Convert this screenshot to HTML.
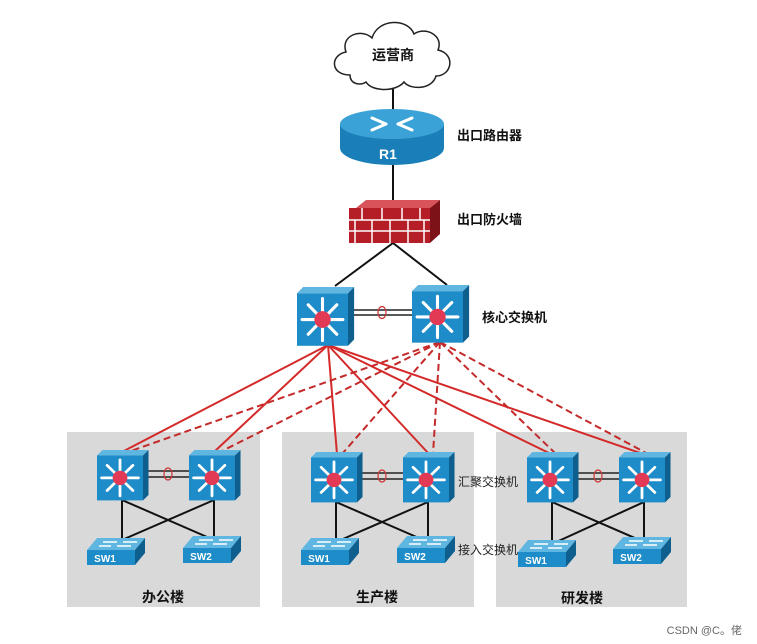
<!DOCTYPE html>
<html><head><meta charset="utf-8"><style>
html,body{margin:0;padding:0;background:#fff;}
svg{display:block;}
text{font-family:"Liberation Sans","Noto Sans CJK SC",sans-serif;}
</style></head><body>
<svg width="757" height="644" viewBox="0 0 757 644" xmlns="http://www.w3.org/2000/svg">
<defs>
<g id="sw">
<polygon points="0,6 6,0 56,0 50,6" fill="#5fb6e0"/>
<rect x="0" y="6" width="50" height="50" fill="#1e8cc8"/>
<polygon points="50,6 56,0 56,50 50,56" fill="#0f5f8e"/>
<g stroke="#fff" stroke-width="3" stroke-linecap="round">
<line x1="25" y1="31" x2="25" y2="11"/><line x1="25" y1="31" x2="25" y2="51"/>
<line x1="25" y1="31" x2="5" y2="31"/><line x1="25" y1="31" x2="45" y2="31"/>
<line x1="25" y1="31" x2="11" y2="17"/><line x1="25" y1="31" x2="39" y2="17"/>
<line x1="25" y1="31" x2="11" y2="45"/><line x1="25" y1="31" x2="39" y2="45"/>
</g>
<circle cx="25" cy="31" r="8" fill="#e23a55"/>
</g>
<g id="as">
<polygon points="10,0 58,0 48,12 0,12" fill="#5fb6e0"/>
<g stroke="#fff" stroke-width="1.5"><line x1="16" y1="4" x2="30" y2="4"/><line x1="30" y1="8" x2="44" y2="8"/><line x1="12" y1="8" x2="24" y2="8"/><line x1="36" y1="4" x2="50" y2="4"/></g>
<rect x="0" y="12" width="48" height="15" fill="#1e8cc8"/>
<polygon points="48,12 58,0 58,15 48,27" fill="#0f5f8e"/>
</g>
</defs>
<!-- building boxes -->
<rect x="67" y="432" width="193" height="175" fill="#d9d9d9"/>
<rect x="282" y="432" width="192" height="175" fill="#d9d9d9"/>
<rect x="496" y="432" width="191" height="175" fill="#d9d9d9"/>
<!-- top black lines -->
<g stroke="#111" stroke-width="2" fill="none">
<line x1="393" y1="85" x2="393" y2="115"/>
<line x1="393" y1="160" x2="393" y2="205"/>
<line x1="393" y1="243" x2="335" y2="286"/>
<line x1="393" y1="243" x2="447" y2="285"/>
</g>
<!-- core link -->
<g stroke="#222" stroke-width="1.5"><line x1="353" y1="310" x2="412" y2="310"/><line x1="353" y1="315" x2="412" y2="315"/></g>
<ellipse cx="382" cy="312.5" rx="4" ry="6" fill="none" stroke="#c33" stroke-width="1.2"/>
<!-- red links -->
<g stroke="#d42a2a" stroke-width="2" fill="none">
<line x1="328" y1="345" x2="122" y2="452"/><line x1="328" y1="345" x2="214" y2="452"/>
<line x1="328" y1="345" x2="337" y2="454"/><line x1="328" y1="345" x2="429" y2="454"/>
<line x1="328" y1="345" x2="551" y2="454"/><line x1="328" y1="345" x2="643" y2="454"/>
</g>
<g stroke="#c42a2a" stroke-width="2" fill="none" stroke-dasharray="7,4">
<line x1="440" y1="342" x2="128" y2="452"/><line x1="440" y1="342" x2="220" y2="452"/>
<line x1="440" y1="342" x2="342" y2="454"/><line x1="440" y1="342" x2="433" y2="454"/>
<line x1="440" y1="342" x2="556" y2="454"/><line x1="440" y1="342" x2="648" y2="454"/>
</g>
<!-- cloud -->
<path d="M350,75 C330,75 330,55 346,52 C340,35 362,28 372,38 C378,18 408,18 414,34 C426,26 444,36 438,50 C456,54 452,76 436,76 C432,90 410,90 404,82 C396,92 372,92 366,82 C360,86 350,84 350,75 Z" fill="#fff" stroke="#222" stroke-width="1.5"/>
<text x="393" y="60" font-size="14" font-weight="bold" text-anchor="middle" fill="#111">运营商</text>
<!-- router -->
<path d="M340,124 L340,148 A52,17 0 0 0 444,148 L444,124 Z" fill="#1a7fb8"/>
<ellipse cx="392" cy="124" rx="52" ry="15" fill="#3aa2d6"/>
<g stroke="#fff" stroke-width="3" stroke-linecap="round">
<line x1="372" y1="118" x2="386" y2="124"/><line x1="412" y1="118" x2="398" y2="124"/>
<line x1="372" y1="130" x2="386" y2="124"/><line x1="412" y1="130" x2="398" y2="124"/>
</g>
<text x="388" y="159" font-size="14" font-weight="bold" text-anchor="middle" fill="#fff">R1</text>
<!-- firewall -->
<polygon points="356,208 366,200 440,200 430,208" fill="#d9535a"/>
<rect x="349" y="208" width="81" height="35" fill="#b51e27"/>
<polygon points="430,208 440,200 440,234 430,243" fill="#7d1218"/>
<g stroke="#fff" stroke-width="1.5">
<line x1="349" y1="220" x2="430" y2="220"/><line x1="349" y1="231" x2="430" y2="231"/>
<line x1="362" y1="208" x2="362" y2="220"/><line x1="382" y1="208" x2="382" y2="220"/><line x1="402" y1="208" x2="402" y2="220"/><line x1="420" y1="208" x2="420" y2="220"/>
<line x1="355" y1="220" x2="355" y2="243"/><line x1="372" y1="220" x2="372" y2="243"/><line x1="390" y1="220" x2="390" y2="243"/><line x1="408" y1="220" x2="408" y2="243"/><line x1="424" y1="220" x2="424" y2="243"/>
</g>
<!-- core switches -->
<use href="#sw" transform="translate(297,287) scale(1.02,1.05)"/>
<use href="#sw" transform="translate(412,285) scale(1.02,1.03)"/>
<!-- labels -->
<g font-size="13" font-weight="bold" fill="#111">
<text x="457" y="140">出口路由器</text>
<text x="457" y="224">出口防火墙</text>
<text x="482" y="322">核心交换机</text>
</g>
<g font-size="12" fill="#222">
<text x="458" y="486">汇聚交换机</text>
<text x="458" y="554">接入交换机</text>
</g>
<!-- building internals -->
<g id="b1">
<g stroke="#111" stroke-width="2">
<line x1="122" y1="500" x2="122" y2="540"/><line x1="214" y1="500" x2="214" y2="540"/>
<line x1="122" y1="500" x2="214" y2="540"/><line x1="214" y1="500" x2="122" y2="540"/>
</g>
<g stroke="#222" stroke-width="1.5"><line x1="147" y1="471" x2="189" y2="471"/><line x1="147" y1="477" x2="189" y2="477"/></g>
<ellipse cx="168" cy="474" rx="4" ry="6" fill="none" stroke="#c33" stroke-width="1.2"/>
<use href="#sw" transform="translate(97,450) scale(0.92,0.9)"/>
<use href="#sw" transform="translate(189,450) scale(0.92,0.9)"/>
<use href="#as" transform="translate(87,538)"/>
<use href="#as" transform="translate(183,536)"/>
<text x="105" y="562" font-size="10" font-weight="bold" fill="#fff" text-anchor="middle">SW1</text>
<text x="201" y="560" font-size="10" font-weight="bold" fill="#fff" text-anchor="middle">SW2</text>
<text x="163" y="602" font-size="14" font-weight="bold" text-anchor="middle" fill="#111">办公楼</text>
</g>
<g transform="translate(214,2)">
<g stroke="#111" stroke-width="2">
<line x1="122" y1="500" x2="122" y2="540"/><line x1="214" y1="500" x2="214" y2="540"/>
<line x1="122" y1="500" x2="214" y2="540"/><line x1="214" y1="500" x2="122" y2="540"/>
</g>
<g stroke="#222" stroke-width="1.5"><line x1="147" y1="471" x2="189" y2="471"/><line x1="147" y1="477" x2="189" y2="477"/></g>
<ellipse cx="168" cy="474" rx="4" ry="6" fill="none" stroke="#c33" stroke-width="1.2"/>
<use href="#sw" transform="translate(97,450) scale(0.92,0.9)"/>
<use href="#sw" transform="translate(189,450) scale(0.92,0.9)"/>
<use href="#as" transform="translate(87,536)"/>
<use href="#as" transform="translate(183,534)"/>
<text x="105" y="560" font-size="10" font-weight="bold" fill="#fff" text-anchor="middle">SW1</text>
<text x="201" y="558" font-size="10" font-weight="bold" fill="#fff" text-anchor="middle">SW2</text>
<text x="163" y="600" font-size="14" font-weight="bold" text-anchor="middle" fill="#111">生产楼</text>
</g>
<g transform="translate(430,2)">
<g stroke="#111" stroke-width="2">
<line x1="122" y1="500" x2="122" y2="542"/><line x1="214" y1="500" x2="214" y2="540"/>
<line x1="122" y1="500" x2="214" y2="540"/><line x1="214" y1="500" x2="122" y2="542"/>
</g>
<g stroke="#222" stroke-width="1.5"><line x1="147" y1="471" x2="189" y2="471"/><line x1="147" y1="477" x2="189" y2="477"/></g>
<ellipse cx="168" cy="474" rx="4" ry="6" fill="none" stroke="#c33" stroke-width="1.2"/>
<use href="#sw" transform="translate(97,450) scale(0.92,0.9)"/>
<use href="#sw" transform="translate(189,450) scale(0.92,0.9)"/>
<use href="#as" transform="translate(88,538)"/>
<use href="#as" transform="translate(183,535)"/>
<text x="106" y="562" font-size="10" font-weight="bold" fill="#fff" text-anchor="middle">SW1</text>
<text x="201" y="559" font-size="10" font-weight="bold" fill="#fff" text-anchor="middle">SW2</text>
<text x="152" y="601" font-size="14" font-weight="bold" text-anchor="middle" fill="#111">研发楼</text>
</g>
<text x="742" y="634" font-size="11" text-anchor="end" fill="#666">CSDN @C。佬</text>
</svg>
</body></html>
